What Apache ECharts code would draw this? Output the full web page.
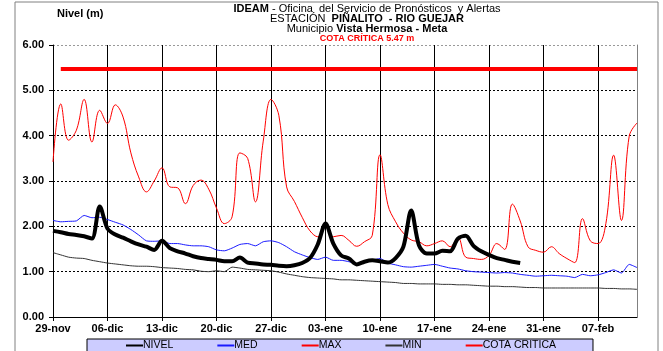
<!DOCTYPE html>
<html>
<head>
<meta charset="utf-8">
<script src="https://cdn.jsdelivr.net/npm/echarts@6/dist/echarts.min.js"></script>
<style>
  html, body { margin: 0; padding: 0; background: #fff; }
  #chart { width: 663px; height: 351px; }
</style>
</head>
<body>
<div id="chart"></div>
<script>
// Daily categories, 29-nov to 12-feb
const days = [
  '29-nov','30-nov',
  '01-dic','02-dic','03-dic','04-dic','05-dic','06-dic','07-dic','08-dic','09-dic','10-dic',
  '11-dic','12-dic','13-dic','14-dic','15-dic','16-dic','17-dic','18-dic','19-dic','20-dic',
  '21-dic','22-dic','23-dic','24-dic','25-dic','26-dic','27-dic','28-dic','29-dic','30-dic','31-dic',
  '01-ene','02-ene','03-ene','04-ene','05-ene','06-ene','07-ene','08-ene','09-ene','10-ene',
  '11-ene','12-ene','13-ene','14-ene','15-ene','16-ene','17-ene','18-ene','19-ene','20-ene',
  '21-ene','22-ene','23-ene','24-ene','25-ene','26-ene','27-ene','28-ene','29-ene','30-ene','31-ene',
  '01-feb','02-feb','03-feb','04-feb','05-feb','06-feb','07-feb','08-feb','09-feb','10-feb',
  '11-feb','12-feb'
];

// Observed level (m)
const nivel = [
  1.90,1.87,1.83,1.81,1.78,1.73,2.44,1.95,1.82,1.75,
  1.67,1.60,1.55,1.48,1.68,1.52,1.45,1.40,1.34,1.30,
  1.28,1.26,1.23,1.23,1.31,1.20,1.18,1.16,1.15,1.13,
  1.12,1.14,1.19,1.30,1.60,2.06,1.62,1.36,1.29,1.16,
  1.22,1.25,1.23,1.20,1.30,1.55,2.35,1.58,1.40,1.40,
  1.46,1.45,1.73,1.79,1.57,1.45,1.37,1.30,1.26,1.22,
  1.19
];

// Historical mean level (m)
const med = [
  2.13,2.10,2.11,2.12,2.24,2.19,2.20,2.15,2.09,2.03,
  1.93,1.81,1.68,1.67,1.68,1.62,1.62,1.59,1.57,1.57,
  1.55,1.48,1.46,1.52,1.60,1.62,1.57,1.66,1.68,1.64,
  1.55,1.44,1.37,1.31,1.27,1.32,1.25,1.25,1.22,1.17,
  1.20,1.25,1.29,1.19,1.15,1.11,1.10,1.12,1.14,1.16,
  1.12,1.08,1.06,1.02,1.00,0.99,0.98,0.97,0.98,0.97,
  0.94,0.92,0.90,0.91,0.92,0.91,0.90,0.87,0.94,0.91,
  0.93,0.98,1.04,0.97,1.16,1.09
];

// Historical maximum level (m)
const max = [
  3.42,4.70,3.90,4.12,4.80,3.86,4.56,4.27,4.68,4.41,
  3.62,3.09,2.76,3.00,3.29,2.87,2.85,2.50,2.90,3.02,
  2.82,2.40,2.06,2.21,3.62,3.50,2.54,3.88,4.80,4.45,
  2.87,2.55,2.20,1.90,1.77,2.05,1.77,1.80,1.69,1.56,
  1.66,1.80,3.58,2.48,2.10,1.85,1.70,1.66,1.57,1.62,
  1.68,1.55,1.75,1.32,1.29,1.27,1.36,1.62,1.49,2.49,
  2.12,1.55,1.47,1.43,1.55,1.40,1.29,1.20,2.17,1.68,
  1.62,2.06,3.57,2.13,3.99,4.28
];

// Historical minimum level (m)
const min = [
  1.42,1.37,1.32,1.30,1.29,1.25,1.22,1.19,1.17,1.15,
  1.13,1.12,1.12,1.11,1.09,1.08,1.07,1.05,1.04,1.01,
  1.00,1.02,1.00,1.10,1.08,1.05,1.04,1.03,1.02,0.99,
  0.95,0.92,0.89,0.87,0.86,0.85,0.84,0.82,0.82,0.81,
  0.80,0.79,0.78,0.77,0.76,0.74,0.74,0.73,0.73,0.73,
  0.72,0.72,0.71,0.71,0.70,0.69,0.68,0.68,0.67,0.67,
  0.66,0.65,0.65,0.64,0.64,0.64,0.64,0.64,0.64,0.64,
  0.64,0.63,0.63,0.62,0.62,0.61
];

// Critical level (m), drawn from the second day onwards
const cotaCritica = 5.47;
const cotaSeries = days.map((d, i) => (i === 0 ? null : cotaCritica));

const yTicks = [0, 1, 2, 3, 4, 5, 6];

const FONT = '"Liberation Sans", Arial, sans-serif';
const weekly = (i) => i % 7 === 0;

const chart = echarts.init(document.getElementById('chart'), null, { renderer: 'canvas' });

chart.setOption({
  animation: false,
  backgroundColor: '#ffffff',
  textStyle: { fontFamily: FONT },
  grid: { left: 53, right: 26, top: 45, bottom: 34, containLabel: false },
  graphic: [
    {
      type: 'rect', silent: true, z: -10,
      shape: { x: 15, y: 2, width: 643, height: 400 },
      style: { fill: 'none', stroke: '#808080', lineWidth: 1 }
    },
    {
      type: 'text', left: 57, top: 8,
      style: { text: 'Nivel (m)', font: 'bold 11px ' + FONT, fill: '#000' }
    },
    {
      type: 'text', x: 367, y: 9,
      style: {
        text: '{b|IDEAM} - Oficina  del Servicio de Pronósticos  y Alertas',
        align: 'center', verticalAlign: 'middle',
        font: '11px ' + FONT, fill: '#000',
        rich: { b: { fontWeight: 'bold', fontSize: 11, fontFamily: FONT } }
      }
    },
    {
      type: 'text', x: 367, y: 19,
      style: {
        text: 'ESTACIÓN  {b|PIÑALITO  - RIO GUEJAR}',
        align: 'center', verticalAlign: 'middle',
        font: '11px ' + FONT, fill: '#000',
        rich: { b: { fontWeight: 'bold', fontSize: 11, fontFamily: FONT } }
      }
    },
    {
      type: 'text', x: 367, y: 29,
      style: {
        text: 'Municipio {b|Vista Hermosa - Meta}',
        align: 'center', verticalAlign: 'middle',
        font: '11px ' + FONT, fill: '#000',
        rich: { b: { fontWeight: 'bold', fontSize: 11, fontFamily: FONT } }
      }
    },
    {
      type: 'text', x: 367, y: 39,
      style: {
        text: 'COTA CRÍTICA ' + cotaCritica.toFixed(2) + ' m',
        align: 'center', verticalAlign: 'middle',
        font: 'bold 9px ' + FONT, fill: '#ff0000'
      }
    }
  ],
  legend: {
    left: 87, top: 339,
    width: 560,
    padding: [1, 37, 1, 38],
    itemGap: 43,
    itemWidth: 17,
    itemHeight: 8,
    backgroundColor: '#ccccff',
    borderColor: '#000000',
    borderWidth: 1,
    borderRadius: 0,
    selectedMode: false,
    itemStyle: { opacity: 0 },
    textStyle: { fontSize: 10.5, fontFamily: FONT, color: '#000', padding: [0, 0, 0, -5] },
    data: ['NIVEL', 'MED', 'MAX', 'MIN', 'COTA CRITICA']
  },
  xAxis: {
    type: 'category',
    data: days,
    boundaryGap: false,
    axisLine: { show: true, lineStyle: { color: '#000', width: 1 } },
    axisTick: { show: true, interval: (i) => weekly(i), length: 4, lineStyle: { color: '#000' } },
    axisLabel: {
      interval: (i) => weekly(i),
      margin: 6,
      fontSize: 11, fontWeight: 'bold', color: '#000', fontFamily: FONT
    },
    splitLine: { show: true, interval: (i) => weekly(i) && i > 0, lineStyle: { color: '#000', width: 1 } }
  },
  yAxis: [
    {
      type: 'value',
      min: yTicks[0], max: yTicks[yTicks.length - 1], interval: 1,
      axisLine: { show: true, lineStyle: { color: '#000', width: 1 } },
      axisTick: { show: true, length: 4, lineStyle: { color: '#000' } },
      axisLabel: {
        margin: 9,
        formatter: (v) => v.toFixed(2),
        fontSize: 11, fontWeight: 'bold', color: '#000', fontFamily: FONT
      },
      splitLine: {
        show: true,
        lineStyle: { color: ['#000', '#000', '#000', '#000', '#000', '#000', '#999'], type: [2, 2], width: 1 }
      }
    },
    {
      type: 'value', position: 'right',
      min: yTicks[0], max: yTicks[yTicks.length - 1], interval: 1,
      axisLine: { show: true, lineStyle: { color: '#808080', width: 1 } },
      axisTick: { show: false }, axisLabel: { show: false }, splitLine: { show: false }
    }
  ],
  series: [
    {
      name: 'NIVEL', type: 'line', data: nivel, symbol: 'none', smooth: 0.3, z: 10,
      lineStyle: { color: '#000000', width: 4 }, itemStyle: { color: '#000000' }
    },
    {
      name: 'MED', type: 'line', data: med, symbol: 'none', smooth: 0.2, z: 4,
      lineStyle: { color: '#1a1aff', width: 1 }, itemStyle: { color: '#1a1aff' }
    },
    {
      name: 'MAX', type: 'line', data: max, symbol: 'none', smooth: 0.4, z: 5,
      lineStyle: { color: '#ff0000', width: 1 }, itemStyle: { color: '#ff0000' }
    },
    {
      name: 'MIN', type: 'line', data: min, symbol: 'none', smooth: 0.2, z: 3,
      lineStyle: { color: '#333333', width: 1 }, itemStyle: { color: '#333333' }
    },
    {
      name: 'COTA CRITICA', type: 'line', data: cotaSeries, symbol: 'none', z: 6,
      lineStyle: { color: '#ff0000', width: 4 }, itemStyle: { color: '#ff0000' }
    }
  ]
});
</script>
</body>
</html>
